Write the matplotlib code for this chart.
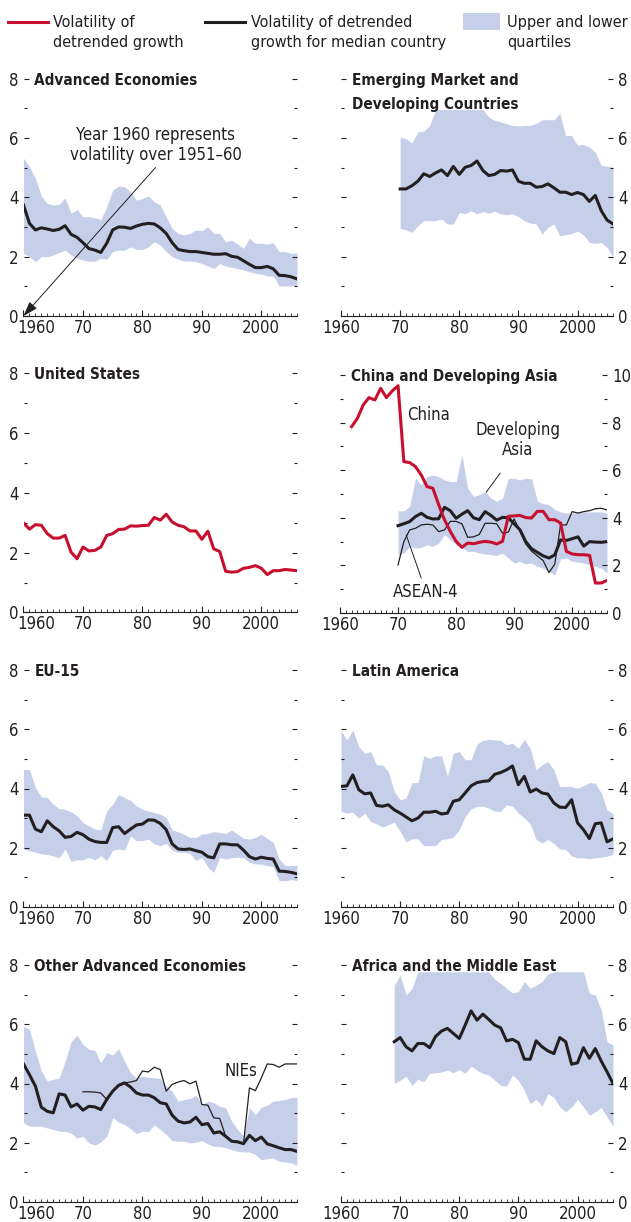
import matplotlib.pyplot as plt
import matplotlib.transforms as mtransforms
from matplotlib.lines import Line2D
from matplotlib.patches import Rectangle
from matplotlib.ticker import MultipleLocator

# ---- data: volatility of detrended growth (10-year rolling windows) ----
years_60 = list(range(1960, 2007))
years_70 = list(range(1970, 2007))
years_69 = list(range(1969, 2007))
years_62 = list(range(1962, 2007))
decades = [1960, 1970, 1980, 1990, 2000]
decade_labels = ['1960', '70', '80', '90', '2000']

adv_median = [3.74, 3.12, 2.90, 2.97, 2.93, 2.88, 2.92, 3.04, 2.75, 2.65,
              2.47, 2.27, 2.22, 2.14, 2.45, 2.90, 3.00, 2.99, 2.95, 3.03,
              3.09, 3.12, 3.10, 2.97, 2.78, 2.47, 2.24, 2.20, 2.17, 2.17,
              2.14, 2.11, 2.08, 2.08, 2.10, 2.01, 1.98, 1.86, 1.74, 1.63,
              1.63, 1.67, 1.59, 1.37, 1.36, 1.32, 1.25]
adv_upper = [5.31, 5.03, 4.64, 4.04, 3.79, 3.74, 3.76, 3.98, 3.46, 3.59,
             3.34, 3.34, 3.31, 3.25, 3.68, 4.24, 4.38, 4.35, 4.19, 3.90,
             3.96, 4.04, 3.85, 3.74, 3.34, 2.95, 2.78, 2.73, 2.78, 2.90,
             2.87, 3.01, 2.78, 2.78, 2.50, 2.56, 2.42, 2.28, 2.62, 2.45,
             2.45, 2.42, 2.47, 2.17, 2.17, 2.11, 2.13]
adv_lower = [2.11, 2.00, 1.83, 2.00, 2.00, 2.05, 2.14, 2.22, 2.05, 1.94,
             1.89, 1.84, 1.85, 1.94, 1.91, 2.17, 2.22, 2.22, 2.33, 2.24,
             2.24, 2.33, 2.50, 2.39, 2.17, 2.00, 1.91, 1.85, 1.85, 1.83,
             1.77, 1.68, 1.60, 1.77, 1.68, 1.64, 1.60, 1.55, 1.49, 1.44,
             1.41, 1.35, 1.35, 1.01, 1.01, 1.01, 1.04]

em_median = [4.28, 4.28, 4.39, 4.54, 4.79, 4.70, 4.82, 4.92, 4.73, 5.04,
             4.77, 5.01, 5.07, 5.22, 4.90, 4.73, 4.77, 4.90, 4.88, 4.92,
             4.54, 4.47, 4.47, 4.34, 4.36, 4.45, 4.32, 4.17, 4.17, 4.09,
             4.16, 4.09, 3.86, 4.06, 3.55, 3.23, 3.10]
em_upper = [6.03, 5.97, 5.83, 6.20, 6.23, 6.42, 6.95, 6.95, 6.95, 6.95,
            6.95, 6.95, 6.95, 6.95, 6.95, 6.70, 6.59, 6.54, 6.48, 6.42,
            6.40, 6.42, 6.42, 6.48, 6.61, 6.61, 6.61, 6.82, 6.08, 6.08,
            5.75, 5.78, 5.69, 5.52, 5.07, 5.04, 5.01]
em_lower = [2.96, 2.90, 2.82, 3.04, 3.21, 3.21, 3.21, 3.27, 3.10, 3.10,
            3.49, 3.44, 3.55, 3.44, 3.52, 3.46, 3.53, 3.44, 3.41, 3.44,
            3.35, 3.21, 3.13, 3.10, 2.76, 2.99, 3.10, 2.70, 2.74, 2.78,
            2.85, 2.74, 2.48, 2.45, 2.48, 2.31, 1.99]

us_vol = [3.00, 2.79, 2.94, 2.92, 2.64, 2.49, 2.49, 2.58, 2.02, 1.80,
          2.19, 2.06, 2.08, 2.19, 2.58, 2.64, 2.78, 2.79, 2.90, 2.89,
          2.91, 2.92, 3.18, 3.09, 3.29, 3.03, 2.92, 2.87, 2.73, 2.73,
          2.45, 2.72, 2.13, 2.04, 1.38, 1.35, 1.37, 1.48, 1.51, 1.57,
          1.48, 1.27, 1.40, 1.40, 1.44, 1.42, 1.40]

china_vol = [7.83, 8.18, 8.74, 9.05, 8.95, 9.44, 9.05, 9.33,
             9.55, 6.36, 6.32, 6.15, 5.80, 5.31, 5.24, 4.55, 3.92, 3.43,
             3.01, 2.76, 2.94, 2.91, 2.97, 3.01, 2.98, 2.90, 3.01, 4.06,
             4.08, 4.10, 4.01, 3.99, 4.27, 4.27, 3.92, 3.92, 3.78, 2.59,
             2.48, 2.45, 2.45, 2.42, 1.26, 1.26, 1.37]
asia_median = [3.67, 3.75, 3.84, 4.05, 4.19, 4.02, 3.95, 3.96, 4.44, 4.30,
               3.98, 4.15, 4.30, 4.00, 3.92, 4.26, 4.10, 3.90, 4.02, 4.00,
               3.75, 3.50, 3.00, 2.70, 2.55, 2.40, 2.31, 2.44, 3.07, 3.05,
               3.12, 3.20, 2.81, 3.00, 2.98, 2.97, 3.00]
asean4_vol = [2.02, 3.00, 3.49, 3.56, 3.70, 3.73, 3.70, 3.42, 3.49, 3.85,
              3.85, 3.75, 3.18, 3.20, 3.30, 3.77, 3.77, 3.75, 3.35, 3.40,
              3.95, 3.45, 2.90, 2.60, 2.40, 2.20, 1.70, 2.05, 3.70, 3.70,
              4.26, 4.20, 4.26, 4.30, 4.38, 4.40, 4.33]
asia_upper = [4.29, 4.29, 4.48, 5.66, 5.38, 5.73, 5.80, 5.73, 5.59, 5.52,
              5.52, 6.64, 5.24, 4.90, 4.97, 5.10, 4.83, 4.69, 4.83, 5.66,
              5.66, 5.59, 5.66, 5.64, 4.69, 4.60, 4.55, 4.35, 4.25, 4.20,
              4.20, 4.22, 4.25, 4.25, 4.25, 4.25, 4.20]
asia_lower = [2.45, 2.52, 2.80, 2.73, 2.76, 2.87, 2.80, 2.94, 3.29, 3.08,
              2.87, 2.73, 2.59, 2.59, 2.52, 2.48, 2.45, 2.42, 2.52, 2.31,
              2.10, 2.17, 2.06, 2.10, 1.96, 1.89, 1.75, 1.60, 2.28, 2.31,
              2.17, 2.14, 2.10, 2.03, 1.96, 1.89, 1.68]

eu_median = [3.10, 3.10, 2.63, 2.54, 2.91, 2.71, 2.57, 2.35, 2.38, 2.52,
             2.44, 2.29, 2.21, 2.18, 2.18, 2.68, 2.71, 2.48, 2.63, 2.77,
             2.80, 2.94, 2.93, 2.82, 2.61, 2.13, 1.96, 1.94, 1.96, 1.90,
             1.85, 1.70, 1.66, 2.13, 2.13, 2.10, 2.10, 1.92, 1.70, 1.62,
             1.68, 1.64, 1.62, 1.21, 1.20, 1.17, 1.12]
eu_upper = [4.64, 4.64, 4.03, 3.72, 3.69, 3.47, 3.32, 3.30, 3.21, 3.08,
            2.85, 2.74, 2.63, 2.60, 3.24, 3.47, 3.80, 3.69, 3.60, 3.41,
            3.30, 3.24, 3.19, 3.13, 3.02, 2.60, 2.54, 2.46, 2.35, 2.35,
            2.46, 2.48, 2.54, 2.52, 2.48, 2.60, 2.46, 2.32, 2.29, 2.35,
            2.46, 2.32, 2.18, 1.62, 1.40, 1.40, 1.40]
eu_lower = [1.96, 1.90, 1.85, 1.79, 1.77, 1.73, 1.66, 1.96, 1.54, 1.59,
            1.59, 1.68, 1.59, 1.73, 1.57, 1.92, 1.96, 1.92, 2.40, 2.24,
            2.24, 2.29, 2.13, 2.07, 2.15, 1.92, 1.85, 1.85, 1.81, 1.57,
            1.68, 1.34, 1.17, 1.68, 1.62, 1.66, 1.68, 1.66, 1.51, 1.45,
            1.45, 1.40, 1.36, 0.89, 0.89, 0.92, 0.89]

lat_median = [4.07, 4.09, 4.46, 3.96, 3.82, 3.85, 3.43, 3.40, 3.45, 3.28,
              3.17, 3.04, 2.91, 3.00, 3.20, 3.20, 3.23, 3.14, 3.17, 3.57,
              3.62, 3.85, 4.09, 4.20, 4.24, 4.26, 4.48, 4.54, 4.63, 4.76,
              4.13, 4.41, 3.88, 3.98, 3.85, 3.81, 3.51, 3.37, 3.36, 3.62,
              2.84, 2.61, 2.31, 2.81, 2.84, 2.20, 2.30]
lat_upper = [5.95, 5.64, 5.98, 5.41, 5.19, 5.25, 4.80, 4.80, 4.57, 3.90,
             3.62, 3.68, 4.20, 4.20, 5.10, 5.02, 5.10, 5.10, 4.41, 5.19,
             5.25, 4.97, 4.97, 5.50, 5.62, 5.66, 5.64, 5.62, 5.47, 5.53,
             5.36, 5.66, 5.36, 4.63, 4.80, 4.91, 4.63, 4.07, 4.07, 4.07,
             4.01, 4.09, 4.20, 4.18, 3.85, 3.28, 3.15]
lat_lower = [3.23, 3.17, 3.20, 3.00, 3.17, 2.89, 2.81, 2.70, 2.78, 2.86,
             2.56, 2.19, 2.30, 2.30, 2.07, 2.07, 2.07, 2.28, 2.30, 2.37,
             2.61, 3.06, 3.31, 3.40, 3.40, 3.34, 3.23, 3.23, 3.45, 3.40,
             3.17, 3.00, 2.81, 2.28, 2.16, 2.28, 2.14, 1.96, 1.94, 1.72,
             1.66, 1.66, 1.63, 1.66, 1.68, 1.72, 1.77]

oth_median = [4.66, 4.30, 3.91, 3.20, 3.06, 3.01, 3.65, 3.61, 3.21, 3.31,
              3.10, 3.23, 3.21, 3.12, 3.46, 3.74, 3.94, 4.02, 3.88, 3.68,
              3.61, 3.61, 3.52, 3.35, 3.31, 2.93, 2.73, 2.67, 2.70, 2.86,
              2.61, 2.65, 2.33, 2.37, 2.22, 2.05, 2.03, 1.97, 2.25, 2.07,
              2.19, 1.96, 1.90, 1.83, 1.77, 1.77, 1.71]
nies_vol = [3.72, 3.72, 3.71, 3.68, 3.46, 3.74, 3.91, 4.02, 4.05, 4.10,
            4.42, 4.39, 4.55, 4.47, 3.74, 3.97, 4.05, 4.10, 3.99, 4.08,
            3.29, 3.27, 2.84, 2.82, 2.22, 2.05, 2.05, 1.96, 3.85, 3.76,
            4.19, 4.66, 4.64, 4.55, 4.66, 4.66, 4.66]
oth_upper = [5.94, 5.83, 5.09, 4.42, 4.08, 4.14, 4.19, 4.75, 5.41, 5.63,
             5.32, 5.15, 5.12, 4.70, 5.04, 4.96, 5.18, 4.75, 4.36, 4.19,
             4.25, 4.21, 4.19, 4.17, 3.91, 3.74, 3.40, 3.46, 3.49, 3.61,
             3.29, 3.40, 3.35, 3.23, 3.18, 2.73, 2.45, 2.22, 3.18, 2.95,
             3.20, 3.27, 3.40, 3.43, 3.46, 3.52, 3.54]
oth_lower = [2.67, 2.56, 2.56, 2.56, 2.50, 2.45, 2.39, 2.39, 2.33, 2.16,
             2.22, 1.99, 1.92, 2.03, 2.22, 2.84, 2.70, 2.61, 2.48, 2.30,
             2.39, 2.37, 2.61, 2.45, 2.28, 2.07, 2.05, 2.05, 1.99, 2.02,
             2.07, 1.96, 1.88, 1.88, 1.83, 1.77, 1.71, 1.69, 1.69, 1.60,
             1.43, 1.46, 1.49, 1.37, 1.35, 1.32, 1.24]

afr_median = [5.41, 5.55, 5.24, 5.10, 5.35, 5.35, 5.21, 5.59, 5.77, 5.86,
              5.69, 5.52, 5.97, 6.45, 6.14, 6.34, 6.16, 5.97, 5.88, 5.44,
              5.49, 5.38, 4.82, 4.82, 5.44, 5.24, 5.10, 5.01, 5.55, 5.41,
              4.65, 4.70, 5.21, 4.85, 5.18, 4.76, 4.39, 4.00]
afr_upper = [7.32, 7.66, 6.99, 7.21, 7.77, 7.77, 7.77, 7.77, 7.77, 7.77,
             7.77, 7.77, 7.77, 7.77, 7.77, 7.77, 7.77, 7.52, 7.38, 7.21,
             7.06, 7.10, 7.44, 7.21, 7.32, 7.44, 7.70, 7.77, 7.77, 7.77,
             7.77, 7.77, 7.77, 7.04, 6.99, 6.48, 5.41, 5.30]
afr_lower = [4.00, 4.11, 4.25, 3.94, 4.14, 4.06, 4.34, 4.36, 4.39, 4.45,
             4.36, 4.47, 4.34, 4.59, 4.45, 4.34, 4.28, 4.11, 3.94, 3.91,
             4.28, 4.11, 3.77, 3.32, 3.47, 3.23, 3.66, 3.53, 3.21, 3.04,
             3.21, 3.46, 3.21, 2.93, 3.04, 3.19, 2.87, 2.56]

# narrow face for all text
plt.rcParams['font.family'] = ['DejaVu Sans']
plt.rcParams['font.stretch'] = 'condensed'

INK = '#231f20'
RED = '#c8102e'
BAND = '#c5cfea'
FS = 12        # tick labels and notes
FS_TITLE = 11  # bold panel titles
FS_LEG = 11.6
W, H = 631, 1222

fig = plt.figure(figsize=(W / 100, H / 100), dpi=100)


def add_panel(x0, x1, y_top, y_bot):
    return fig.add_axes([x0 / W, 1 - y_bot / H, (x1 - x0) / W, (y_bot - y_top) / H])


def style(ax, side, title_lines, ymax=8):
    ax.set_xlim(1960, 2006)
    ax.set_ylim(0, ymax)
    for s in ('top', 'left', 'right'):
        ax.spines[s].set_visible(False)
    ax.spines['bottom'].set_linewidth(0.8)
    ax.spines['bottom'].set_color(INK)
    ax.set_xticks(decades)
    ax.xaxis.set_minor_locator(MultipleLocator(1))
    ax.yaxis.set_major_locator(MultipleLocator(2))
    ax.yaxis.set_minor_locator(MultipleLocator(1))
    ax.tick_params(axis='x', which='major', direction='in', length=4.5, width=0.8,
                   labelbottom=False, colors=INK)
    ax.tick_params(axis='x', which='minor', direction='in', length=2.2, width=0.6, colors=INK)
    ax.tick_params(axis='y', which='both', direction='in', left=True, right=True,
                   labelleft=(side == 'left'), labelright=(side == 'right'),
                   pad=3.5, labelsize=FS, colors=INK, width=0.8)
    ax.tick_params(axis='y', which='major', length=3.6)
    ax.tick_params(axis='y', which='minor', length=2)

    # decade labels under the axis; on the left column the first one is
    # nudged right so it clears the zero of the value axis
    for yr, lab in zip(decades, decade_labels):
        dx = 13 if (side == 'left' and yr == 1960) else 0
        tr = mtransforms.offset_copy(ax.get_xaxis_transform(), fig=fig, x=dx, y=-3,
                                     units='dots')
        ax.text(yr, 0, lab, transform=tr, ha='center', va='top', fontsize=FS, color=INK)

    for i, line in enumerate(title_lines):
        tr = mtransforms.offset_copy(ax.get_yaxis_transform(), fig=fig,
                                     y=-6 - 24 * i, units='dots')
        ax.text(0.04, ymax, line, transform=tr, ha='left', va='baseline',
                fontsize=FS_TITLE, fontweight='bold', color=INK)


def band(ax, years, lo, hi):
    ax.fill_between(years, lo, hi, color=BAND, lw=0)


rows = [(78.5, 316), (373.5, 612.5), (670, 907), (965, 1202)]
LX = (23.5, 297)
RX = (341, 613)

# Advanced economies
ax = add_panel(*LX, *rows[0])
band(ax, years_60, adv_lower, adv_upper)
ax.plot(years_60, adv_median, color=INK, lw=2.2)
style(ax, 'left', ['Advanced Economies'])
ax.text(1982.2, 5.76, 'Year 1960 represents\nvolatility over 1951\u201360', ha='center',
        va='center', fontsize=FS, color=INK)
ax.annotate('', xy=(1960, 0), xytext=(1982.2, 5.0), annotation_clip=False,
            arrowprops=dict(arrowstyle='-|>,head_length=0.9,head_width=0.3', lw=0.7,
                            color=INK, shrinkA=0, shrinkB=0))

# Emerging market and developing countries
ax = add_panel(*RX, *rows[0])
band(ax, years_70, em_lower, em_upper)
ax.plot(years_70, em_median, color=INK, lw=2.2)
style(ax, 'right', ['Emerging Market and', 'Developing Countries'])

# United States
ax = add_panel(*LX, *rows[1])
ax.plot(years_60, us_vol, color=RED, lw=2.2)
style(ax, 'left', ['United States'])

# China and developing Asia
ax = add_panel(340, 607, 375, 613)
band(ax, years_70, asia_lower, asia_upper)
ax.plot(years_70, asean4_vol, color=INK, lw=0.9)
ax.plot(years_70, asia_median, color=INK, lw=2.2)
ax.plot(years_62, china_vol, color=RED, lw=2.2)
style(ax, 'right', ['China and Developing Asia'], ymax=10)
ax.text(1971.5, 8.3, 'China', ha='left', va='center', fontsize=FS, color=INK)
ax.text(1990.6, 7.27, 'Developing\nAsia', ha='center', va='center', fontsize=FS,
        color=INK, multialignment='center')
ax.annotate('', xy=(1985.2, 5.08), xytext=(1987.6, 5.88),
            arrowprops=dict(arrowstyle='-', lw=0.7, color=INK, shrinkA=0, shrinkB=0))
ax.text(1974.7, 0.88, 'ASEAN-4', ha='center', va='center', fontsize=FS, color=INK)
ax.annotate('', xy=(1971.4, 3.28), xytext=(1974.0, 1.47),
            arrowprops=dict(arrowstyle='-', lw=0.7, color=INK, shrinkA=0, shrinkB=0))

# EU-15
ax = add_panel(*LX, *rows[2])
band(ax, years_60, eu_lower, eu_upper)
ax.plot(years_60, eu_median, color=INK, lw=2.2)
style(ax, 'left', ['EU-15'])

# Latin America
ax = add_panel(*RX, *rows[2])
band(ax, years_60, lat_lower, lat_upper)
ax.plot(years_60, lat_median, color=INK, lw=2.2)
style(ax, 'right', ['Latin America'])

# Other advanced economies
ax = add_panel(*LX, *rows[3])
band(ax, years_60, oth_lower, oth_upper)
ax.plot(years_60, oth_median, color=INK, lw=2.2)
ax.plot(years_70, nies_vol, color=INK, lw=0.9)
style(ax, 'left', ['Other Advanced Economies'])
ax.text(1996.5, 4.41, 'NIEs', ha='center', va='center', fontsize=FS, color=INK)

# Africa and the Middle East
ax = add_panel(*RX, *rows[3])
band(ax, years_69, afr_lower, afr_upper)
ax.plot(years_69, afr_median, color=INK, lw=2.2)
style(ax, 'right', ['Africa and the Middle East'])


# ---- legend across the top ----
def fx(x):
    return x / W


def fy(y):
    return 1 - y / H


def legend_text(x, lines):
    for i, line in enumerate(lines):
        fig.text(fx(x), fy(22 + 21 * i), line, ha='left', va='center',
                 fontsize=FS_LEG, color=INK)


fig.add_artist(Line2D([fx(8), fx(48)], [fy(22)] * 2, color=RED, lw=2.2,
                      transform=fig.transFigure))
legend_text(53, ['Volatility of', 'detrended growth'])
fig.add_artist(Line2D([fx(205), fx(245)], [fy(22)] * 2, color=INK, lw=2.2,
                      transform=fig.transFigure))
legend_text(251, ['Volatility of detrended', 'growth for median country'])
fig.add_artist(Rectangle((fx(463), fy(30)), (500 - 463) / W, 17 / H, color=BAND, lw=0,
                         transform=fig.transFigure))
legend_text(507, ['Upper and lower', 'quartiles'])

fig.savefig('out.png', dpi=100)
